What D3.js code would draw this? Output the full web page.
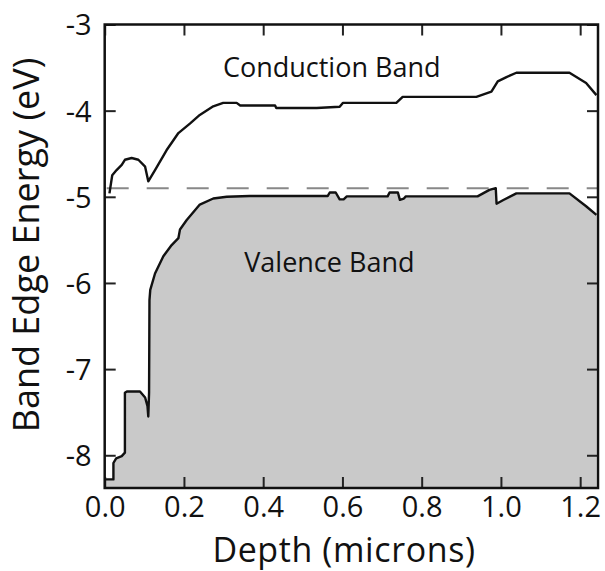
<!DOCTYPE html>
<html>
<head>
<meta charset="utf-8">
<script src="https://cdn.jsdelivr.net/npm/d3@7"></script>
<style>
  html, body { margin: 0; padding: 0; background: #fff; }
  svg { display: block; }
  text { font-family: "Open Sans", "Noto Sans", sans-serif; fill: #111; font-weight: 500; }
</style>
</head>
<body>
<svg id="chart" width="605" height="571"></svg>
<script>
// Band-edge profile versus depth
const xTicks = [0.0, 0.2, 0.4, 0.6, 0.8, 1.0, 1.2];
const yTicks = [-3, -4, -5, -6, -7, -8];

// Conduction band edge
const condDepth = [0.012, 0.019, 0.030, 0.043, 0.051, 0.068, 0.085, 0.102, 0.110, 0.127,
                   0.156, 0.186, 0.215, 0.240, 0.274, 0.299, 0.333, 0.342, 0.430, 0.433,
                   0.535, 0.593, 0.601, 0.736, 0.752, 0.938, 0.976, 0.992, 1.014, 1.039,
                   1.173, 1.215, 1.241];
const condEnergy = [-4.96, -4.75, -4.69, -4.63, -4.57, -4.55, -4.57, -4.65, -4.82, -4.69,
                    -4.46, -4.26, -4.15, -4.05, -3.95, -3.91, -3.91, -3.94, -3.94, -3.97,
                    -3.97, -3.955, -3.91, -3.91, -3.84, -3.84, -3.78, -3.66, -3.61, -3.56,
                    -3.56, -3.68, -3.82];

// Valence band edge (shaded below)
const valDepth = [0.000, 0.022, 0.022, 0.029, 0.043, 0.051, 0.051, 0.056, 0.089, 0.102,
                  0.108, 0.110, 0.112, 0.113, 0.115, 0.127, 0.148, 0.169, 0.186, 0.190,
                  0.207, 0.240, 0.274, 0.308, 0.366, 0.563, 0.568, 0.583, 0.593, 0.603,
                  0.611, 0.714, 0.719, 0.740, 0.745, 0.755, 0.760, 0.941, 0.971, 0.987,
                  0.989, 1.005, 1.039, 1.173, 1.215, 1.241];
const valEnergy = [-8.28, -8.28, -8.09, -8.035, -8.01, -7.97, -7.275, -7.26, -7.26, -7.33,
                   -7.43, -7.55, -7.27, -6.20, -6.08, -5.89, -5.69, -5.56, -5.48, -5.38,
                   -5.27, -5.09, -5.02, -5.00, -4.99, -4.99, -4.95, -4.95, -5.03, -5.03,
                   -4.995, -4.995, -4.95, -4.95, -5.035, -5.02, -4.995, -4.995, -4.92, -4.90,
                   -5.08, -5.04, -4.96, -4.96, -5.11, -5.21];

// Reference level (dashed)
const fermiLevel = [-4.90];

const labels = [
  { text: "Conduction Band", depth: 0.573, energy: -3.61 },
  { text: "Valence Band", depth: 0.567, energy: -5.87 }
];

const xDomain = [0, 1.245];
const yDomain = [-8.38, -3];

const svg = d3.select("#chart");
const m = { left: 104.7, right: 7, top: 24.5, bottom: 83 };
const W = 605, H = 571;

const x = d3.scaleLinear().domain(xDomain).range([m.left, W - m.right]);
const y = d3.scaleLinear().domain(yDomain).range([H - m.bottom, m.top]);

const cond = condDepth.map((d, i) => ({ d, e: condEnergy[i] }));
const val = valDepth.map((d, i) => ({ d, e: valEnergy[i] }));

// Shaded valence region
svg.append("path")
  .datum(val)
  .attr("d", d3.area().x(p => x(p.d)).y0(y(yDomain[0])).y1(p => y(p.e)))
  .attr("fill", "#c9c9c9");

// Dashed reference line
svg.append("line")
  .attr("x1", x(xDomain[0])).attr("x2", x(xDomain[1]))
  .attr("y1", y(fermiLevel[0])).attr("y2", y(fermiLevel[0]))
  .attr("stroke", "#888").attr("stroke-width", 2)
  .attr("stroke-dasharray", "22,18").attr("stroke-dashoffset", 38);

// Band edges
const line = d3.line().x(p => x(p.d)).y(p => y(p.e));
svg.append("path").datum(val).attr("d", line)
  .attr("fill", "none").attr("stroke", "#111").attr("stroke-width", 2.4)
  .attr("stroke-linejoin", "round");
svg.append("path").datum(cond).attr("d", line)
  .attr("fill", "none").attr("stroke", "#111").attr("stroke-width", 2.4)
  .attr("stroke-linejoin", "round");

// Axes with inward ticks on all four sides
const tickLen = 11;
const fmtX = d3.format(".1f");
const gB = svg.append("g").attr("transform", `translate(0,${y(yDomain[0])})`)
  .call(d3.axisBottom(x).tickValues(xTicks).tickFormat(fmtX).tickSize(-tickLen).tickPadding(29));
const gL = svg.append("g").attr("transform", `translate(${x(0)},0)`)
  .call(d3.axisLeft(y).tickValues(yTicks).tickFormat(d => String(d)).tickSize(-tickLen).tickPadding(13));
const gT = svg.append("g").attr("transform", `translate(0,${y(yDomain[1])})`)
  .call(d3.axisTop(x).tickValues(xTicks).tickFormat("").tickSize(-tickLen));
const gR = svg.append("g").attr("transform", `translate(${x(xDomain[1])},0)`)
  .call(d3.axisRight(y).tickValues(yTicks).tickFormat("").tickSize(-tickLen));

[gB, gL, gT, gR].forEach(g => {
  g.select(".domain").remove();
  g.selectAll(".tick line").attr("stroke", "#222").attr("stroke-width", 2);
  g.selectAll(".tick text").attr("fill", "#111").style("font-size", "29px")
    .style("font-weight", 500)
    .style("font-family", "'Open Sans', 'Noto Sans', sans-serif");
});
gB.selectAll(".tick text").attr("dy", "0");
gL.selectAll(".tick text").attr("dy", "0.36em");

// Frame
svg.append("rect")
  .attr("x", x(xDomain[0])).attr("y", y(yDomain[1]))
  .attr("width", x(xDomain[1]) - x(xDomain[0]))
  .attr("height", y(yDomain[0]) - y(yDomain[1]))
  .attr("fill", "none").attr("stroke", "#111").attr("stroke-width", 2.5);

// In-plot labels
svg.selectAll("text.band")
  .data(labels).enter().append("text")
  .attr("class", "band")
  .attr("x", l => x(l.depth)).attr("y", l => y(l.energy))
  .attr("text-anchor", "middle")
  .style("font-size", "27px")
  .text(l => l.text);

// Axis titles
svg.append("text")
  .attr("x", 344).attr("y", 562)
  .attr("text-anchor", "middle")
  .style("font-size", "34px")
  .style("letter-spacing", "0.6px")
  .text("Depth (microns)");

svg.append("text")
  .attr("transform", `translate(39,245) rotate(-90)`)
  .attr("text-anchor", "middle")
  .style("font-size", "36px")
  .text("Band Edge Energy (eV)");
</script>
</body>
</html>
